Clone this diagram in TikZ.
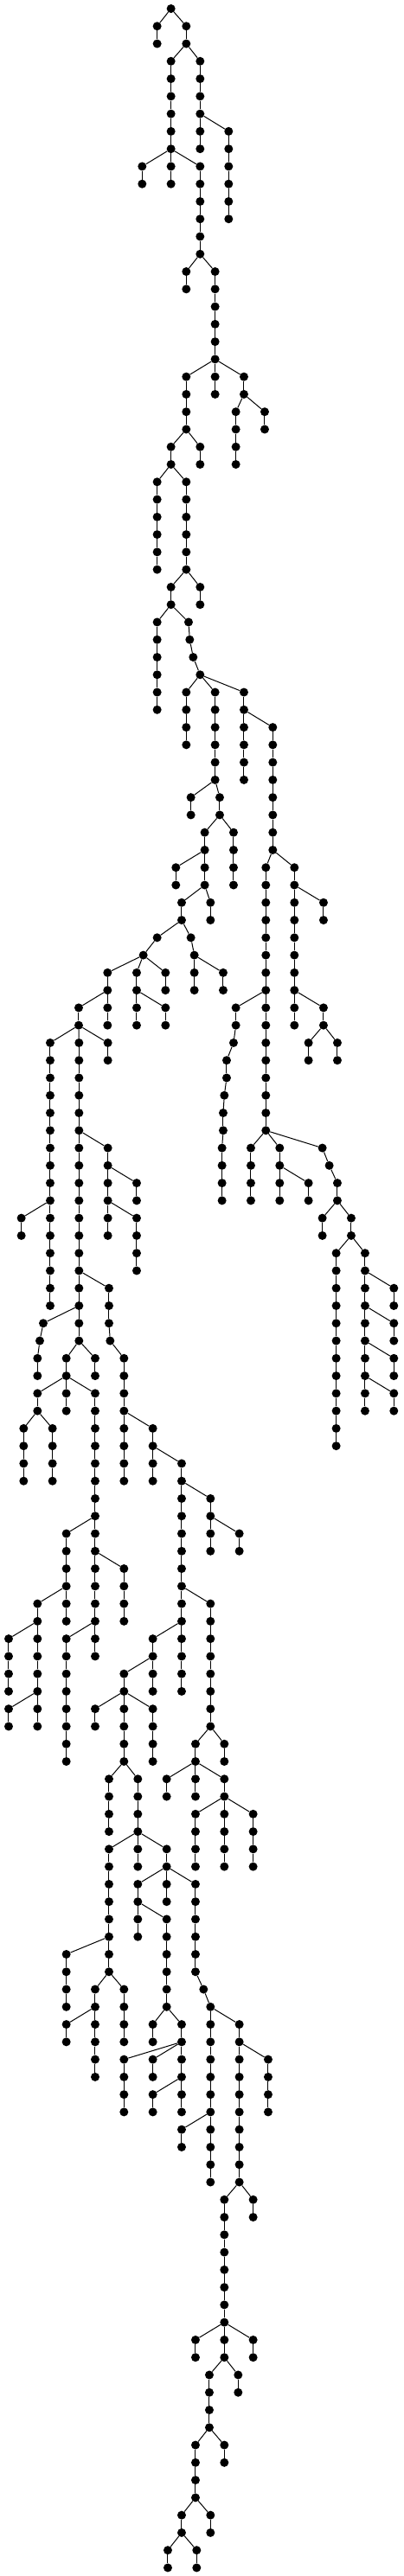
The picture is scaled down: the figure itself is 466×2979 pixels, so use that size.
\documentclass[tikz,border=0pt]{standalone}
\begin{document}
\begin{tikzpicture}[x=0.3333pt, y=20.27pt,
    bead/.style={circle, fill=black, inner sep=0pt, minimum size=10pt},
    twig/.style={line width=1pt}]
\useasboundingbox (0pt,10pt) rectangle (466pt,-2969pt);
% runs: column x / first level / last level / parent node
\def\runs{545/1/2/593-0, 646/1/2/593-0, 593/3/10/646-2, 694/3/8/646-2, 793/7/12/694-6, 493/9/10/593-8, 694/9/14/593-8,
646/15/16/694-14, 746/15/22/694-14, 646/21/24/746-20, 846/21/22/746-20, 818/23/26/846-22, 918/23/24/846-22,
593/25/26/646-24, 694/25/26/646-24, 545/27/32/593-26, 646/27/32/593-26, 694/33/34/646-32, 593/33/34/646-32,
545/35/40/593-34, 654/35/35/593-34, 658/36/36/654-35, 670/37/37/658-36, 694/38/38/670-37,
646/39/42/694-38, 746/39/44/694-38, 846/39/44/694-38, 946/41/48/846-40, 662/45/46/746-44, 762/45/46/746-44,
710/47/50/762-46, 810/47/50/762-46, 610/49/50/710-48, 630/51/52/710-50, 730/51/52/710-50,
545/53/53/630-52, 497/54/54/545-53, 662/53/53/630-52, 674/54/56/662-53, 774/55/56/674-54,
373/55/58/497-54, 474/55/58/497-54, 574/55/56/497-54, 574/57/58/474-56, 273/57/58/373-56,
174/59/74/273-58, 274/59/76/273-58, 374/59/60/273-58,
922/49/64/946-48, 1021/49/58/946-48, 1122/51/52/1021-50, 1122/57/58/1021-56, 1070/59/60/1122-58, 1170/59/60/1122-58,
818/57/58/922-56, 810/59/59/818-58, 786/60/61/810-59, 778/62/62/786-61, 774/63/64/778-62, 770/65/68/774-64,
74/69/70/174-68, 374/65/70/274-64, 474/67/68/374-66, 474/69/72/374-68,
378/73/75/274-72, 382/76/76/378-75, 430/77/84/382-76,
870/65/68/922-64, 970/65/68/922-64, 1070/67/68/970-66, 1118/65/65/922-64, 1142/66/66/1118-65, 1170/67/68/1142-66,
1118/69/70/1170-68, 1218/69/70/1170-68, 1166/71/82/1218-70, 1266/71/80/1218-70,
1366/73/74/1266-72, 1366/75/76/1266-74, 1366/77/78/1266-76, 1366/79/80/1266-78,
150/75/75/274-74, 138/76/76/150-75, 130/77/78/138-76, 230/77/80/274-76, 330/77/78/274-76,
130/79/80/230-78, 82/81/84/130-80, 182/81/84/130-80, 330/79/94/230-78,
530/81/84/430-80, 630/83/96/530-82, 730/85/88/630-84, 830/87/88/730-86,
230/87/92/330-86, 130/91/98/230-90, 30/93/96/130-92, 30/97/98/130-96, 430/89/92/330-88, 230/93/100/330-92,
730/91/98/630-90, 530/93/96/630-92, 430/95/100/530-94, 330/97/98/430-96, 530/97/100/430-96,
378/101/104/430-100, 478/101/106/430-100, 378/105/112/478-104, 578/105/108/478-104,
478/107/110/578-106, 678/107/112/578-106, 706/113/113/678-112, 730/114/124/706-113, 578/109/114/478-108,
678/99/102/730-98, 778/99/100/730-98, 578/101/102/678-100, 778/101/106/678-100, 678/103/106/778-102, 878/103/106/778-102,
230/111/114/378-110, 330/113/118/378-112, 430/113/116/378-112, 230/115/116/330-114,
530/115/116/578-114, 630/115/120/578-114, 430/117/120/630-116, 530/117/118/630-116, 530/119/120/630-118,
830/115/124/730-114, 930/117/120/830-116, 630/121/122/730-120,
778/125/134/830-124, 878/125/126/830-124, 678/133/134/778-132, 878/133/134/778-132,
726/135/138/778-134, 826/135/136/778-134, 678/139/142/726-138, 778/139/140/726-138,
630/143/144/678-142, 730/143/144/678-142, 582/145/146/630-144, 682/145/146/630-144}
\node[bead] (593-0) at (593,0) {};
\foreach \x/\a/\b/\p in \runs {
    \foreach \l in {\a,...,\b}
        \node[bead] (\x-\l) at (\x,-\l) {};
}
\foreach \x/\a/\b/\p in \runs {
    \draw[twig] (\p) -- (\x-\a);
    \foreach \l in {\a,...,\b} {
        \ifnum\l>\a\relax
            \pgfmathtruncatemacro\k{\l-1}
            \draw[twig] (\x-\k) -- (\x-\l);
        \fi
    }
}
\end{tikzpicture}
\end{document}
